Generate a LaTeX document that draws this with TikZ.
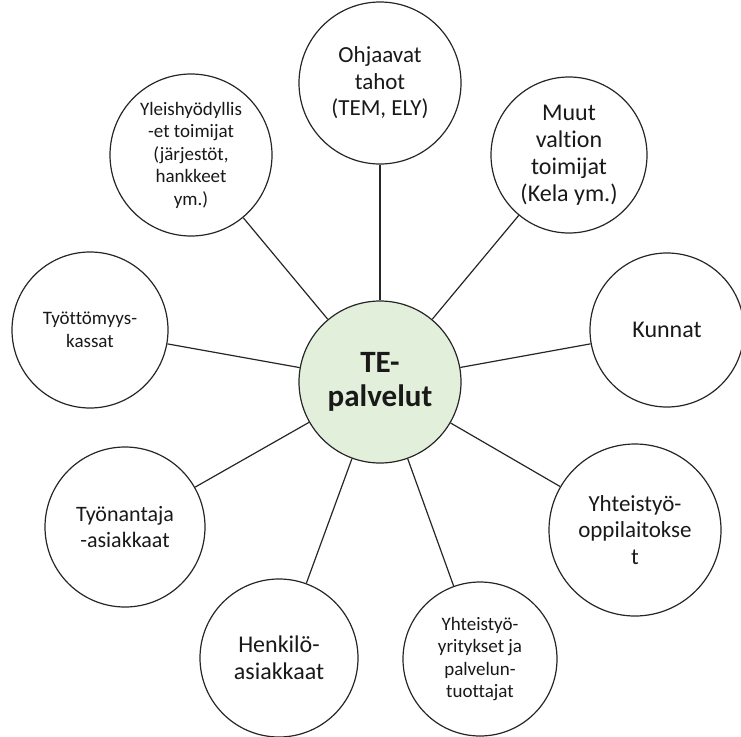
\documentclass[tikz,border=0pt]{standalone}
\usepackage{fontspec}
\setmainfont{Carlito}[Ligatures=NoCommon]
\usepackage{tikz}
\usetikzlibrary{positioning}
\definecolor{tegreen}{HTML}{E2EFDA}
\definecolor{edge}{HTML}{262626}

\begin{document}
\begin{tikzpicture}[x=1pt,y=-1pt,
  ympyra/.style={draw=edge,line width=1.2pt,circle,fill=white,inner sep=0pt,align=center,text=black!90,font=\fontsize{23}{26.5}\selectfont},
  pieni/.style={font=\fontsize{19}{22.5}\selectfont},
  iso/.style={font=\fontsize{24}{27}\selectfont},
  linkki/.style={draw=edge,line width=1.2pt}]
\useasboundingbox (0,0) rectangle (741,736);
\node[ympyra,minimum size=162pt,fill=tegreen,font=\bfseries\fontsize{31}{34}\selectfont] (te) at (380,382) {TE-\\palvelut};
\node[ympyra,minimum size=162pt] (ohjaavat) at (380,83) {Ohjaavat\\tahot\\(TEM, ELY)};
\node[ympyra,iso,minimum size=156pt] (muut) at (569,155) {Muut\\valtion\\toimijat\\(Kela ym.)};
\node[ympyra,iso,minimum size=154pt] (kunnat) at (667,330) {Kunnat};
\node[ympyra,minimum size=172pt] (oppilaitokset) at (635,530) {Yhteistyö-\\oppilaitokse\\t};
\node[ympyra,pieni,minimum size=154pt] (yritykset) at (480,659) {Yhteistyö-\\yritykset ja\\palvelun-\\tuottajat};
\node[ympyra,iso,minimum size=158pt] (henkilo) at (279,658) {Henkilö-\\asiakkaat};
\node[ympyra,minimum size=160pt,font=\fontsize{22}{26}\selectfont] (tyonantaja) at (125,527) {Työnantaja\\-asiakkaat};
\node[ympyra,pieni,minimum size=156pt] (kassat) at (90,330) {Työttömyys-\\kassat};
\node[ympyra,pieni,minimum size=162pt] (yleis) at (191,155) {Yleishyödyllis\\-et toimijat\\(järjestöt,\\hankkeet\\ym.)};
\foreach \n in {ohjaavat,muut,kunnat,oppilaitokset,yritykset,henkilo,tyonantaja,kassat,yleis}
  \draw[linkki] (te) -- (\n);
\end{tikzpicture}
\end{document}
